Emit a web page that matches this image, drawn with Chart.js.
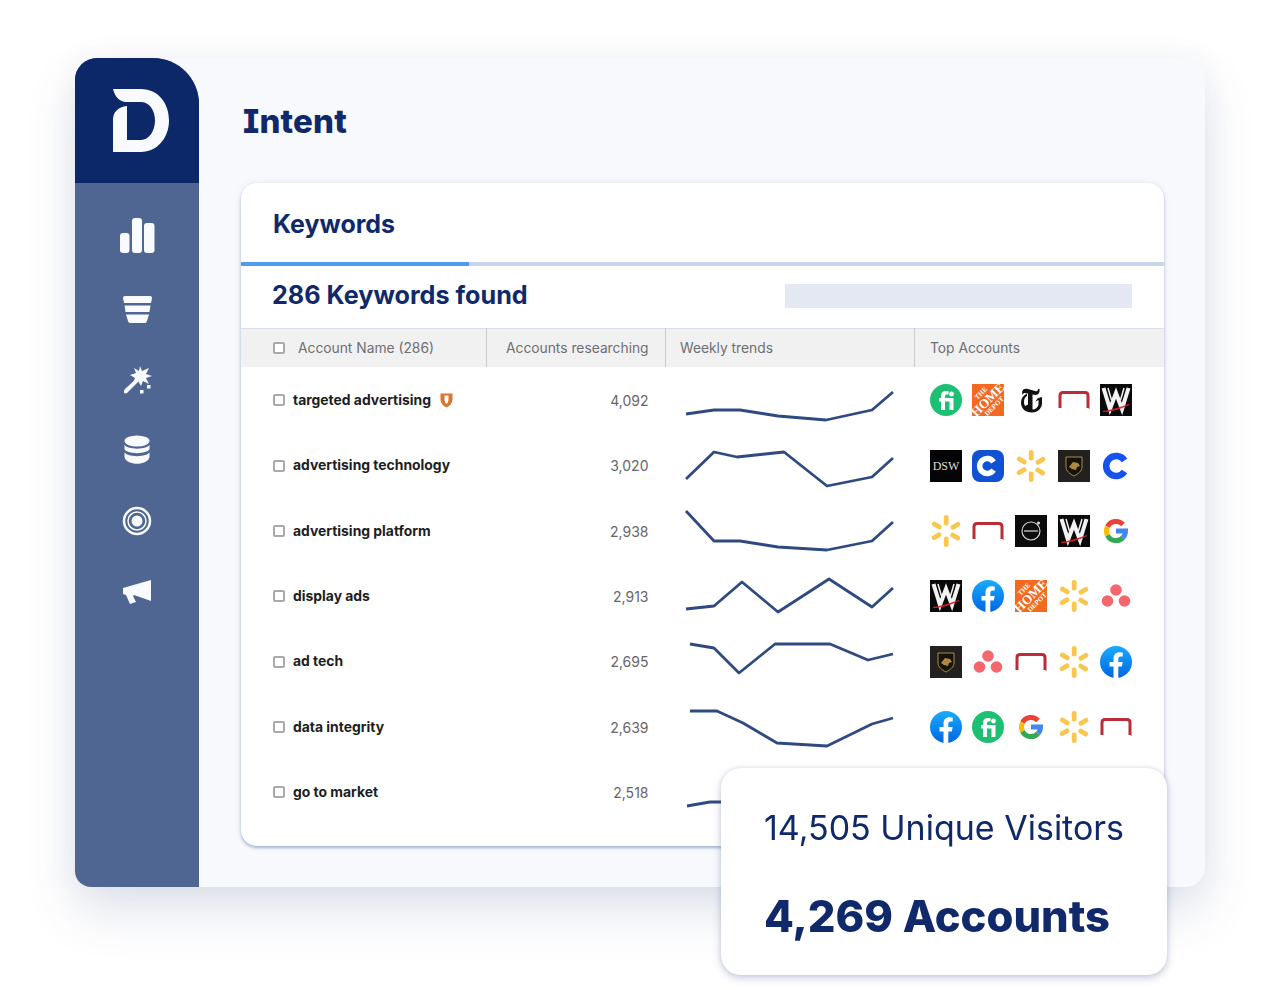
<!DOCTYPE html>
<html lang="en">
<head>
<meta charset="UTF-8">
<title>Intent</title>
<style>
    html, body { margin: 0; padding: 0; background: #fff; }
    body { width: 1280px; height: 990px; position: relative; overflow: hidden; font-family: Inter, sans-serif; }
    .abs { position: absolute; }
    .txt { position: absolute; white-space: nowrap; line-height: 1; transform: translateY(-50%); }
    #panel { left: 75px; top: 58px; width: 1130px; height: 829px; background: #f8f9fc; border-radius: 20px 20px 20px 16px;
        box-shadow: 0 24px 50px rgba(60, 80, 130, .16), 0 0 30px rgba(60, 80, 130, .05); }
    #side { left: 75px; top: 58px; width: 124px; height: 829px; background: #4f6592; border-radius: 22px 46px 0 16px; overflow: hidden; }
    #sideTop { left: 0; top: 0; width: 100%; height: 125px; background: #0d2869; }
    #card { left: 241px; top: 183px; width: 923px; height: 663px; background: #fff; border-radius: 16px;
        box-shadow: 0 2px 3px rgba(80, 110, 170, .45), 0 0 6px rgba(80, 110, 170, .12); }
    #tabLine { left: 241px; top: 262px; width: 923px; height: 4px; background: #c6d5ea; }
    #tabOn { left: 241px; top: 262px; width: 228px; height: 4px; background: #4f9bef; }
    #search { left: 785px; top: 284px; width: 347px; height: 24px; background: #e3e8f3; }
    #thead { left: 241px; top: 328px; width: 923px; height: 39px; background: #f1f1f2; border-top: 1px solid #d9e0ea; box-sizing: border-box; }
    .vline { position: absolute; top: 328px; height: 39px; width: 1px; background: #c9cbd0; }
    .box { position: absolute; width: 8px; height: 8px; border: 2px solid #a9a9a9; border-radius: 2px; background: #fff; transform: translateY(-50%); }
    .th { font-size: 13.8px; color: #6e6e72; }
    .kw { font-size: 13.9px; font-weight: 700; color: #1e1e22; }
    .cnt { font-size: 14px; color: #66666a; right: 631.5px; }
    .logo { position: absolute; width: 32px; height: 32px; transform: translateY(-50%); }
    canvas.spark { position: absolute; left: 680px; width: 220px; height: 64px; }
    #pop { left: 721px; top: 768px; width: 446px; height: 207px; background: #fff; border-radius: 20px; z-index: 5;
        box-shadow: 0 3px 8px rgba(60, 80, 130, .28), 0 0 4px rgba(60, 80, 130, .12); }
    h1, h2 { margin: 0; }
</style>
</head>
<body>

<svg width="0" height="0" style="position:absolute">
    <defs>
        <linearGradient id="fbGrad" x1="0" y1="0" x2="0" y2="1">
            <stop offset="0" stop-color="#18acfe"/><stop offset="1" stop-color="#0165e1"/>
        </linearGradient>
        <symbol id="fiverr" viewBox="0 0 32 32">
            <circle cx="16" cy="16" r="16" fill="#1dbf73"/>
            <path d="M9 14h2v-2c0-3.500 2-5 5-5h2.500v3.600H17c-1.400 0-2 .5-2 1.600V14h8.500v12h-4V17.500H15V26h-4v-8.500H9z" fill="#fff"/>
            <circle cx="21.500" cy="10" r="2.400" fill="#fff"/>
        </symbol>
        <symbol id="homedepot" viewBox="0 0 32 32">
            <rect width="32" height="32" fill="#f3691f"/>
            <g transform="rotate(-45 16 16)" fill="#fff" text-anchor="middle" font-family="Liberation Serif" font-weight="700">
                <text x="16" y="8.500" font-size="7">THE</text>
                <text x="16" y="20" font-size="13">HOME</text>
                <text x="16" y="27" font-size="7">DEPOT</text>
            </g>
        </symbol>
        <symbol id="nyt" viewBox="0 0 32 32">
            <path d="M7 9c0-4 3-5 6-4l7 2c2 .5 3 0 3-2h1.500c.5 3-1 6-4 6l-3-.6v15c3 0 5-2 6-4.500V16l-3 1.500 2-3 4-1.500 .5 .5v5c.5 5-4 10-10 10-7 0-11-4-11-10 0-4 2-7 6-9v2.500c-2 1-3 3-3 6 0 1.500 .3 2.800 1 4l3-1.500V9.500L10 9c-1.500 0-2 .6-2 2z" fill="#111"/>
        </symbol>
        <symbol id="redbox" viewBox="0 0 32 32">
            <path d="M2 24V11.500q0-3 3-3h22q3 0 3 3V24" fill="none" stroke="#bc2c37" stroke-width="3"/>
            <rect x="30.500" y="24" width="1.500" height="1" fill="#aaa"/>
        </symbol>
        <symbol id="wwe" viewBox="0 0 32 32">
            <rect width="32" height="32" fill="#0a0a0a"/>
            <path d="M3.500 4L10 25L16 9L22 25L28.500 4" fill="none" stroke="#f2f2f2" stroke-width="4" stroke-linejoin="miter"/>
            <path d="M8 4L11.500 16M24 4L20.500 16" fill="none" stroke="#f2f2f2" stroke-width="1.500"/>
            <path d="M3 27.500C11 26.500 20 23.500 29 20.500C20 25 11 27.500 3 27.500Z" fill="#d81e2a" stroke="#d81e2a" stroke-width=".8"/>
        </symbol>
        <symbol id="dsw" viewBox="0 0 32 32">
            <rect width="32" height="32" fill="#050505"/>
            <text x="16" y="20" font-size="12" text-anchor="middle" fill="#ddd" font-family="Liberation Serif">DSW</text>
        </symbol>
        <symbol id="capp" viewBox="0 0 32 32">
            <rect width="32" height="32" rx="8" fill="#1152d4"/>
            <path d="M21.500 12a7.500 7.500 0 1 0 0 8" fill="none" stroke="#fff" stroke-width="5.500"/>
        </symbol>
        <symbol id="walmart" viewBox="0 0 32 32">
            <g fill="#f9c74f">
                <rect x="13.800" y="0" width="4.800" height="10.500" rx="2.200"/>
                <rect x="13.800" y="21.500" width="4.800" height="10.500" rx="2.200"/>
                <rect x="13.800" y="0" width="4.800" height="10.500" rx="2.200" transform="rotate(60 16 16)"/>
                <rect x="13.800" y="0" width="4.800" height="10.500" rx="2.200" transform="rotate(120 16 16)"/>
                <rect x="13.800" y="0" width="4.800" height="10.500" rx="2.200" transform="rotate(240 16 16)"/>
                <rect x="13.800" y="0" width="4.800" height="10.500" rx="2.200" transform="rotate(300 16 16)"/>
            </g>
        </symbol>
        <symbol id="lambo" viewBox="0 0 32 32">
            <rect width="32" height="32" fill="#23211f"/>
            <path d="M8 7h16v10c0 4-4 7-8 9-4-2-8-5-8-9z" fill="#15130f" stroke="#b08a3c" stroke-width="1"/>
            <path d="M11 17l4-5 5 1 2 3-3 1-1 3-4-1z" fill="#b08a3c"/>
        </symbol>
        <symbol id="cring" viewBox="0 0 32 32">
            <path d="M24.500 10.500a10 10 0 1 0 0 11" fill="none" stroke="#1652f0" stroke-width="6.500"/>
        </symbol>
        <symbol id="volvo" viewBox="0 0 32 32">
            <rect width="32" height="32" fill="#0c0c0c"/>
            <circle cx="16" cy="16" r="9" fill="none" stroke="#ddd" stroke-width="1.100"/>
            <rect x="9" y="15.300" width="14" height="1.400" fill="#bbb"/>
            <circle cx="23.500" cy="8" r="1.500" fill="#ddd"/>
        </symbol>
        <symbol id="google" viewBox="0 0 32 32">
            <g fill="none" stroke-width="5">
                <path d="M23 9.500A9.500 9.500 0 0 0 7.500 11.700" stroke="#ea4335"/>
                <path d="M7.500 11.700A9.500 9.500 0 0 0 7.500 20.300" stroke="#fbbc05"/>
                <path d="M7.500 20.300A9.500 9.500 0 0 0 23 22.500" stroke="#34a853"/>
                <path d="M23 22.500A9.500 9.500 0 0 0 25.500 16H16" stroke="#4285f4"/>
            </g>
        </symbol>
        <symbol id="asana" viewBox="0 0 32 32">
            <circle cx="16" cy="10" r="5.800" fill="#f4676c"/>
            <circle cx="7.500" cy="21" r="5.800" fill="#f4676c"/>
            <circle cx="24.500" cy="21" r="5.800" fill="#f4676c"/>
        </symbol>
        <symbol id="facebook" viewBox="0 0 32 32">
            <circle cx="16" cy="16" r="16" fill="url(#fbGrad)"/>
            <path d="M13.500 32V20.500H9.500V16h4v-3.500c0-4 2.400-6.200 6-6.200 1.700 0 3.200.3 3.200.3v3.900h-1.900c-1.900 0-2.500 1.200-2.500 2.400V16h4.300l-.7 4.500h-3.600V32z" fill="#fff"/>
        </symbol>
    </defs>
</svg>

<div class="abs" id="panel"></div>
<div class="abs" id="side"><div class="abs" id="sideTop"></div></div>

<svg class="abs" style="left:0;top:0" width="1280" height="990" fill="#f8fafd">
    <!-- logo -->
    <path d="M113 89H141C158 89 169 103 169 120.500C169 138 157 152 141 152H113V120C113 112 118 107 127 106V140H141C149 140 155 131 155 120.500C155 110 149 102 141 102H126C120 102 115 97 113 89Z"/>
    <!-- bars -->
    <rect x="120" y="233" width="9.500" height="20" rx="3"/>
    <rect x="132" y="218" width="10" height="35" rx="3"/>
    <rect x="144" y="223" width="10.500" height="30" rx="3"/>
    <!-- funnel -->
    <path d="M125 296H150Q152 296 152 298L151 303H124L123 298Q123 296 125 296Z"/>
    <path d="M124.500 305.500H150.500L149.500 312H125.500Z"/>
    <path d="M126 314.500H149L147 321Q146.500 323 145 323H130Q128.500 323 128 321Z"/>
    <!-- wand -->
    <path d="M125 389L137 378L139 381L127 393Q125 394 124 392.500Q123.500 390.500 125 389Z"/>
    <path d="M140 366L142 371L149 368L146 374L152 376L146 378L149 384L143 381L141 386L138 381L133 383L135 378L130 375L136 373L134 368L139 371Z"/>
    <rect x="147" y="385" width="3.500" height="3.500"/>
    <rect x="140" y="390" width="3.500" height="3.500"/>
    <!-- database -->
    <ellipse cx="137" cy="441" rx="12.500" ry="5.500"/>
    <path d="M124.500 444.500C126 450 148 450 149.500 444.500V449C148 454.500 126 454.500 124.500 449Z"/>
    <path d="M124.500 452C126 457.500 148 457.500 149.500 452V457C148 466 126 466 124.500 457Z"/>
    <!-- target -->
    <g fill="none" stroke="#f8fafd">
        <circle cx="137" cy="521" r="13" stroke-width="2.500"/>
        <circle cx="137" cy="521" r="9" stroke-width="1.500"/>
    </g>
    <circle cx="137" cy="521" r="5.500"/>
    <!-- megaphone -->
    <path d="M151 580V601L134 595L133 596L136 602L130 604L126 595L123 594V588Z"/>
</svg>

<h1 class="txt" style="left:243px;top:121px;font-size:33px;font-weight:800;color:#10296a;letter-spacing:.2px;font-feature-settings:'cv08'">Intent</h1>

<div class="abs" id="card"></div>
<h2 class="txt" style="left:273px;top:224px;font-size:25px;font-weight:700;color:#10296a">Keywords</h2>
<div class="abs" id="tabLine"></div>
<div class="abs" id="tabOn"></div>
<div class="txt" style="left:272px;top:296px;font-size:25.200px;font-weight:700;color:#10296a" id="found"></div>
<div class="abs" id="search"></div>
<div class="abs" id="thead"></div>
<div class="vline" style="left:486px"></div>
<div class="vline" style="left:665px"></div>
<div class="vline" style="left:914px"></div>
<div class="box" style="left:272.500px;top:348px"></div>
<div class="txt th" style="left:298px;top:348.500px" id="th0"></div>
<div class="txt th" style="left:506px;top:348.500px" id="th1"></div>
<div class="txt th" style="left:680px;top:348.500px" id="th2"></div>
<div class="txt th" style="left:930px;top:348.500px" id="th3"></div>

<div id="rows"></div>

<svg class="abs" style="left:440px;top:393px" width="13" height="15" viewBox="0 0 13 15">
    <path d="M0.500 0.500H12.500V6C12.500 10 10 13 6.500 14.500C3 13 0.500 10 0.500 6Z" fill="#d9772f"/>
    <path d="M4.500 2.500H8.500V6.500C8.500 8.500 7.500 10 6.500 11C5.500 10 4.500 8.500 4.500 6.500Z" fill="#fff"/>
</svg>

<div class="abs" id="pop"></div>
<div class="txt" style="left:764px;top:828px;font-size:34px;color:#10296a;z-index:6" id="visitors"></div>
<div class="txt" style="left:764px;top:917px;font-size:43.500px;font-weight:800;color:#10296a;z-index:6" id="accounts"></div>

<script src="https://cdn.jsdelivr.net/npm/chart.js@4/dist/chart.umd.min.js"></script>
<script>
    const HEADERS = ["Account Name (286)", "Accounts researching", "Weekly trends", "Top Accounts"];
    const KEYWORDS = ["targeted advertising", "advertising technology", "advertising platform", "display ads", "ad tech", "data integrity", "go to market"];
    const COUNTS = ["4,092", "3,020", "2,938", "2,913", "2,695", "2,639", "2,518"];

    // weekly trend readings, one list per keyword
    const WEEKS_1 = [6, 34, 60, 98, 146, 192, 213];
    const TREND_1 = [18, 22, 22, 16, 12, 22, 40];
    const WEEKS_2 = [6, 34, 57, 104, 147, 192, 213];
    const TREND_2 = [19, 46, 41, 46, 12, 21, 40];
    const WEEKS_3 = [6, 34, 60, 98, 147, 192, 213];
    const TREND_3 = [52, 22, 22, 16, 13, 22, 41];
    const WEEKS_4 = [6, 34, 62, 98, 149, 192, 213];
    const TREND_4 = [19, 22, 46, 16, 49, 21, 40];
    const WEEKS_5 = [10, 34, 59, 95, 150, 188, 213];
    const TREND_5 = [50, 46, 21, 50, 50, 34, 40];
    const WEEKS_6 = [10, 37, 63, 97, 147, 192, 213];
    const TREND_6 = [48, 48, 36, 16, 13, 35, 41];
    const WEEKS_7 = [7, 30, 60, 98, 146, 192, 213];
    const TREND_7 = [18, 22, 22, 16, 12, 22, 40];

    const ALL_WEEKS = [WEEKS_1, WEEKS_2, WEEKS_3, WEEKS_4, WEEKS_5, WEEKS_6, WEEKS_7];
    const ALL_TRENDS = [TREND_1, TREND_2, TREND_3, TREND_4, TREND_5, TREND_6, TREND_7];

    const TOP_ACCOUNTS = [
        ["fiverr", "homedepot", "nyt", "redbox", "wwe"],
        ["dsw", "capp", "walmart", "lambo", "cring"],
        ["walmart", "redbox", "volvo", "wwe", "google"],
        ["wwe", "facebook", "homedepot", "walmart", "asana"],
        ["lambo", "asana", "redbox", "walmart", "facebook"],
        ["facebook", "fiverr", "google", "walmart", "redbox"],
        []
    ];

    const ROW_Y = [400, 465.5, 531, 596, 661.5, 727, 792];
    const LOGO_X = [929.5, 972, 1015, 1057.5, 1100];
    const LINE_COLOR = "#2f4a80";

    document.getElementById("found").textContent = "286 Keywords found";
    document.getElementById("visitors").textContent = "14,505 Unique Visitors";
    document.getElementById("accounts").textContent = "4,269 Accounts";
    HEADERS.forEach(function(h, i) {
        document.getElementById("th" + i).textContent = h;
    });

    const rows = document.getElementById("rows");

    function addDiv(cls, left, top, text) {
        const d = document.createElement("div");
        d.className = cls;
        if (left !== null) d.style.left = left + "px";
        d.style.top = top + "px";
        if (text) d.textContent = text;
        rows.appendChild(d);
    }

    KEYWORDS.forEach(function(name, i) {
        const y = ROW_Y[i];
        addDiv("box", 272.5, y);
        addDiv("txt kw", 293, Math.floor(y) + 0.5, name);
        addDiv("txt cnt", null, Math.floor(y) + 0.5, COUNTS[i]);

        TOP_ACCOUNTS[i].forEach(function(id, k) {
            const wrap = document.createElement("div");
            wrap.className = "logo";
            wrap.style.left = LOGO_X[k] + "px";
            wrap.style.top = y + "px";
            wrap.innerHTML = '<svg width="32" height="32"><use href="#' + id + '"/></svg>';
            rows.appendChild(wrap);
        });

        const canvas = document.createElement("canvas");
        canvas.className = "spark";
        canvas.width = 220;
        canvas.height = 64;
        canvas.style.top = (y - 32) + "px";
        rows.appendChild(canvas);

        new Chart(canvas.getContext("2d"), {
            type: "line",
            data: {
                datasets: [{
                    data: ALL_TRENDS[i].map(function(v, k) { return {x: ALL_WEEKS[i][k], y: v}; }),
                    borderColor: LINE_COLOR,
                    borderWidth: 2.8,
                    borderJoinStyle: "round",
                    pointRadius: 0,
                    tension: 0
                }]
            },
            options: {
                responsive: false,
                animation: false,
                events: [],
                layout: {padding: 0},
                plugins: {legend: {display: false}, tooltip: {enabled: false}},
                scales: {
                    x: {type: "linear", display: false, min: 0, max: 220},
                    y: {display: false, min: 0, max: 64}
                }
            }
        });
    });
</script>
</body>
</html>
